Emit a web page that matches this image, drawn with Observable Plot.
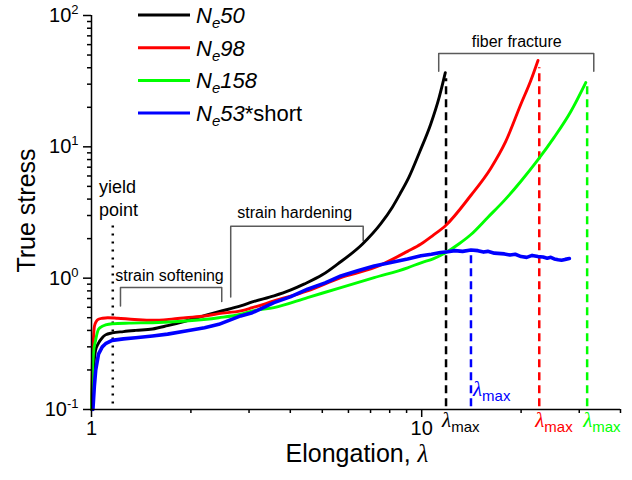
<!DOCTYPE html>
<html><head><meta charset="utf-8">
<script src="https://cdn.jsdelivr.net/npm/d3@7"></script>
<script src="https://cdn.jsdelivr.net/npm/@observablehq/plot@0.6"></script>
<style>
html,body{margin:0;padding:0;background:#fff;}
#chart{position:relative;width:632px;height:480px;}
</style></head><body><div id="chart"></div>
<script>
// ---------- data ----------
const seriesNames = ["Ne50", "Ne98", "Ne158", "Ne53*short"];
const seriesColors = ["#000000", "#ff0000", "#00ff00", "#0000ff"];

const ne50X = [1.0, 1.007, 1.014, 1.028, 1.05, 1.078, 1.103, 1.155, 1.25, 1.36, 1.53, 1.7, 1.93, 2.15, 2.43, 2.83, 3.07, 3.57, 4.0, 4.4, 5.0, 5.56, 6.62, 7.52, 8.15, 8.6, 9.15, 9.85, 10.66, 11.3, 11.79];
const ne50Y = [0.1, 0.15, 0.2, 0.28, 0.32, 0.352, 0.37, 0.383, 0.392, 0.40, 0.41, 0.435, 0.472, 0.51, 0.556, 0.614, 0.659, 0.733, 0.81, 0.90, 1.06, 1.28, 1.82, 2.6, 3.47, 4.39, 5.88, 9.1, 15.0, 23.9, 36.7];

const ne98X = [1.0, 1.005, 1.014, 1.021, 1.035, 1.05, 1.08, 1.12, 1.2, 1.35, 1.53, 1.75, 1.93, 2.2, 2.43, 2.83, 3.07, 3.57, 4.51, 5.69, 7.18, 9.06, 9.95, 10.8, 11.82, 14.08, 16.18, 17.97, 19.95, 21.4, 22.5];
const ne98Y = [0.1, 0.2, 0.352, 0.432, 0.47, 0.486, 0.495, 0.50, 0.495, 0.485, 0.478, 0.488, 0.50, 0.515, 0.537, 0.563, 0.596, 0.67, 0.80, 1.01, 1.2, 1.6, 1.82, 2.11, 2.52, 4.26, 6.85, 11.0, 21.0, 32.0, 45.5];

const ne158X = [1.0, 1.007, 1.014, 1.028, 1.05, 1.078, 1.103, 1.155, 1.3, 1.53, 1.93, 2.43, 2.83, 3.07, 3.57, 4.51, 5.69, 7.18, 9.06, 9.95, 10.87, 11.85, 12.95, 14.1, 15.85, 17.8, 19.95, 22.42, 25.18, 28.29, 31.4];
const ne158Y = [0.1, 0.2, 0.27, 0.332, 0.408, 0.43, 0.44, 0.45, 0.455, 0.458, 0.472, 0.50, 0.531, 0.563, 0.596, 0.711, 0.848, 1.01, 1.2, 1.31, 1.41, 1.57, 1.82, 2.15, 2.9, 3.91, 5.45, 7.88, 11.8, 18.6, 30.9];

const ne53X = [1.01, 1.02, 1.03, 1.05, 1.078, 1.103, 1.155, 1.25, 1.36, 1.53, 1.7, 1.93, 2.2, 2.43, 2.83, 3.07, 3.57, 4.0, 4.51, 5.1, 5.69, 6.4, 7.18, 8.0, 9.06, 9.95, 10.7, 11.4, 12.0, 12.6, 13.3, 14.1, 14.8, 15.4, 15.85, 16.6, 17.8, 18.5, 19.2, 20.0, 20.8, 21.6, 22.5, 23.3, 24.0, 24.6, 25.2, 25.9, 26.5, 27.2, 28.0];
const ne53Y = [0.1, 0.15, 0.2, 0.264, 0.3, 0.317, 0.336, 0.345, 0.352, 0.363, 0.375, 0.396, 0.42, 0.445, 0.516, 0.546, 0.651, 0.72, 0.824, 0.92, 1.04, 1.14, 1.24, 1.31, 1.40, 1.48, 1.52, 1.57, 1.59, 1.62, 1.6, 1.64, 1.62, 1.58, 1.6, 1.55, 1.53, 1.5, 1.52, 1.46, 1.44, 1.49, 1.46, 1.45, 1.42, 1.44, 1.40, 1.38, 1.37, 1.39, 1.41];

// fracture elongations (lambda max) and dashed-line tops
const lambdaMax = [11.85, 22.7, 31.7, 14.1];
const lambdaTop = [33, 40, 30, 1.5];
const lambdaBottom = 0.105;

// yield point
const yieldX = 1.16;
const yieldRange = [0.11, 2.5];

// brackets
const softeningX = [1.224, 1.224, 2.48, 2.48];
const softeningY = [0.614, 0.848, 0.848, 0.663];
const hardeningX = [2.64, 2.64, 6.65, 6.65];
const hardeningY = [0.72, 2.48, 2.48, 1.93];
const fractureX = [11.26, 11.26, 33.2, 33.2];
const fractureY = [37.6, 51.3, 51.3, 37.6];

// annotation labels
const noteText = ["yield", "point", "strain softening", "strain hardening"];
const noteX = [1.054, 1.054, 1.18, 2.764];
const noteY = [4.89, 3.27, 1.037, 3.15];
const fractureLabel = {text: "fiber fracture", x: 19.4, y: 62.8};

// axis ticks
const xMajor = [1, 10];
const xMinor = [2, 3, 4, 5, 6, 7, 8, 9, 20, 30, 40];
const yMajor = [0.1, 1, 10, 100];
const yMinor = [0.2, 0.3, 0.4, 0.5, 0.6, 0.7, 0.8, 0.9, 2, 3, 4, 5, 6, 7, 8, 9, 20, 30, 40, 50, 60, 70, 80, 90];

// ---------- build rows ----------
const xs = [ne50X, ne98X, ne158X, ne53X];
const ys = [ne50Y, ne98Y, ne158Y, ne53Y];
const curves = seriesNames.map((name, i) => xs[i].map((x, j) => ({series: name, x, y: ys[i][j]})));
const dashRows = seriesNames.map((name, i) => ({series: name, x: lambdaMax[i], y1: lambdaBottom, y2: lambdaTop[i], color: seriesColors[i]}));
const bracket = (X, Y) => X.map((x, i) => ({x, y: Y[i]}));
const notes = noteText.map((t, i) => ({text: t, x: noteX[i], y: noteY[i]}));

const FONT = "'Liberation Sans', Arial, Helvetica, sans-serif";
const bracketColor = "#5a5a5a";

const marks = [
  Plot.ruleX(dashRows, {x: "x", y1: "y1", y2: "y2", stroke: "color", strokeWidth: 2.5, strokeDasharray: "8,5"}),
  Plot.ruleX([yieldX], {y1: yieldRange[0], y2: yieldRange[1], stroke: "#000", strokeWidth: 2.5, strokeDasharray: "2,6"}),
  Plot.line(bracket(softeningX, softeningY), {x: "x", y: "y", stroke: bracketColor, strokeWidth: 1.5}),
  Plot.line(bracket(hardeningX, hardeningY), {x: "x", y: "y", stroke: bracketColor, strokeWidth: 1.5}),
  Plot.line(bracket(fractureX, fractureY), {x: "x", y: "y", stroke: bracketColor, strokeWidth: 1.5}),
  ...curves.map((rows, i) => Plot.line(rows, {x: "x", y: "y", curve: i === 3 ? "linear" : "monotone-x", stroke: seriesColors[i], strokeWidth: i === 3 ? 3.6 : 2.9, strokeLinejoin: "round"})),
  Plot.text(notes.slice(0, 2), {x: "x", y: "y", text: "text", textAnchor: "start", fontSize: 18, fill: "#000"}),
  Plot.text(notes.slice(2), {x: "x", y: "y", text: "text", textAnchor: "start", fontSize: 16, fill: "#000"}),
  Plot.text([fractureLabel], {x: "x", y: "y", text: "text", textAnchor: "middle", fontSize: 16, fill: "#000"}),
  Plot.text(dashRows.slice(0, 3), {x: "x", frameAnchor: "bottom", text: () => "λmax", textAnchor: "start", dx: -4, dy: 17, fill: "color", fontSize: 21}),
  Plot.text(dashRows.slice(3), {x: "x", frameAnchor: "bottom", text: () => "λmax", textAnchor: "start", dx: 2, dy: -14, fill: "color", fontSize: 21}),
  Plot.ruleY([0.1], {stroke: "#000", strokeWidth: 1.5}),
  Plot.ruleX([1], {stroke: "#000", strokeWidth: 1.5}),
  Plot.axisX(xMajor, {tickSize: 8, tickPadding: 3, strokeWidth: 1.5, fontSize: 20, label: null, tickFormat: d => String(d)}),
  Plot.axisX(xMinor, {tickSize: 4, strokeWidth: 1.5, label: null, tickFormat: () => ""}),
  Plot.axisY(yMajor, {tickSize: 8, tickPadding: 5, strokeWidth: 1.5, fontSize: 20, label: null, tickFormat: d => "10^" + Math.round(Math.log10(d))}),
  Plot.axisY(yMinor, {tickSize: 4, strokeWidth: 1.5, label: null, tickFormat: () => ""}),
  Plot.text(["True stress"], {frameAnchor: "left", rotate: -90, dx: -65, dy: -2, fontSize: 25, textAnchor: "middle", fill: "#000"}),
  Plot.text(["Elongation, λ"], {frameAnchor: "bottom", dy: 52, dx: 1, fontSize: 25, textAnchor: "middle", fill: "#000"})
];

const chart = Plot.plot({
  width: 632,
  height: 480,
  marginLeft: 91,
  marginRight: 12,
  marginTop: 15,
  marginBottom: 71,
  x: {type: "log", domain: [1, 40]},
  y: {type: "log", domain: [0.1, 100]},
  style: {fontFamily: FONT, fontSize: "20px", color: "#000", background: "#fff", overflow: "visible"},
  marks
});
document.getElementById("chart").appendChild(chart);

// ---------- rich text post-processing ----------
const svg = d3.select(chart);
svg.selectAll("text").each(function () {
  const el = d3.select(this);
  const t = this.textContent;
  let m = /^10\^(-?\d+)$/.exec(t);
  if (m) {
    el.text(null);
    el.append("tspan").text("10");
    el.append("tspan").attr("dy", "-8").attr("font-size", 13).text(m[1]);
  } else if (t === "λmax") {
    el.text(null);
    el.append("tspan").attr("font-family", "'Liberation Serif', 'DejaVu Serif', serif").attr("font-style", "italic").text("λ");
    el.append("tspan").attr("dy", "5").attr("font-size", 15).text("max");
  } else if (t === "Elongation, λ") {
    el.text(null);
    el.append("tspan").text("Elongation, ");
    el.append("tspan").attr("font-family", "'Liberation Serif', 'DejaVu Serif', serif").attr("font-style", "italic").text("λ");
  }
});

// ---------- legend ----------
const legend = svg.append("g").attr("font-family", FONT).attr("text-anchor", "start");
const legendParts = [["50", ""], ["98", ""], ["158", ""], ["53", "*short"]];
seriesNames.forEach((name, i) => {
  const y = 15 + i * 32.7;
  legend.append("line").attr("x1", 138).attr("x2", 190).attr("y1", y).attr("y2", y)
    .attr("stroke", seriesColors[i]).attr("stroke-width", 3);
  const tx = legend.append("text").attr("x", 196).attr("y", y + 8).attr("font-size", 22)
    .attr("fill", "#000").attr("text-anchor", "start");
  tx.append("tspan").attr("font-style", "italic").text("N");
  tx.append("tspan").attr("font-style", "italic").attr("font-size", 15).attr("dy", 5).text("e");
  tx.append("tspan").attr("font-style", "italic").attr("dy", -5).text(legendParts[i][0]);
  if (legendParts[i][1]) tx.append("tspan").text(legendParts[i][1]);
});
</script></body></html>
